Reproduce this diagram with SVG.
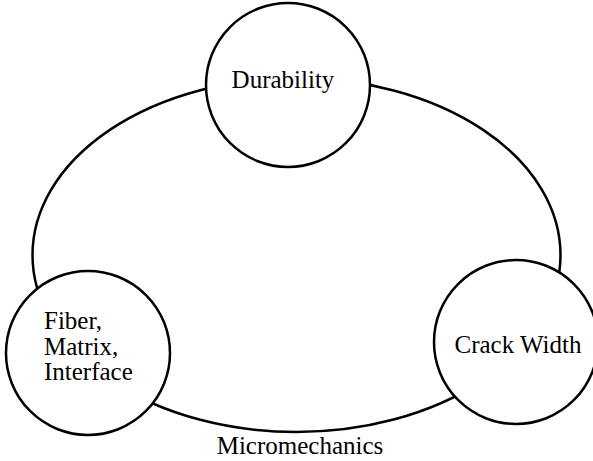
<svg xmlns="http://www.w3.org/2000/svg" width="593" height="461" viewBox="0 0 593 461">
  <style>
    .shape { fill: #ffffff; stroke: #000000; stroke-width: 2.5; }
    .ring { fill: none; stroke: #000000; stroke-width: 2.5; }
    .label { font-family: "Liberation Serif", "Times New Roman", serif; font-size: 25px; fill: #000000; }
  </style>
  <rect width="593" height="461" fill="#ffffff"/>
  <g id="connectors">
    <ellipse class="ring" cx="296.5" cy="255" rx="264" ry="177"/>
  </g>
  <g id="durability">
    <circle class="shape" cx="288" cy="85" r="82"/>
    <text class="label" x="283" y="88" text-anchor="middle">Durability</text>
  </g>
  <g id="fiber-matrix-interface">
    <circle class="shape" cx="88" cy="353" r="82"/>
    <text class="label" x="44" y="329">Fiber,</text>
    <text class="label" x="44" y="355">Matrix,</text>
    <text class="label" x="44" y="380">Interface</text>
  </g>
  <g id="crack-width">
    <circle class="shape" cx="516" cy="342" r="82"/>
    <text class="label" x="518" y="353" text-anchor="middle">Crack Width</text>
  </g>
  <g id="micromechanics-label">
    <text class="label" x="300" y="454" text-anchor="middle">Micromechanics</text>
  </g>
</svg>
